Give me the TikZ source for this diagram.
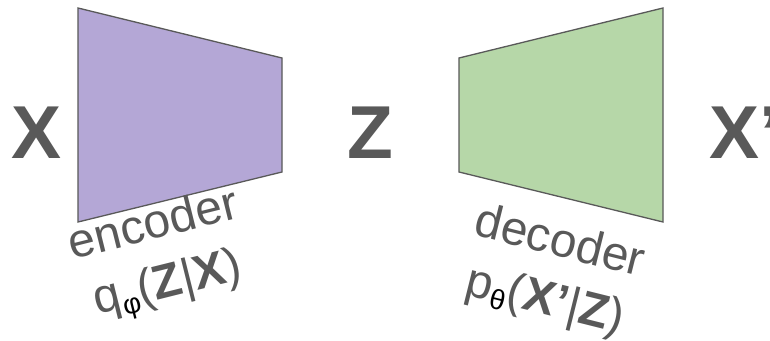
\documentclass[tikz,border=0pt]{standalone}
\usepackage{fontspec}
\setmainfont{Liberation Sans}
\definecolor{txtgray}{HTML}{595959}
\definecolor{encfill}{HTML}{B4A7D6}
\definecolor{decfill}{HTML}{B6D7A8}
\begin{document}
\begin{tikzpicture}[x=1pt,y=-1pt,
  big/.style={font=\fontsize{75}{80}\selectfont\bfseries, text=txtgray, inner sep=0pt, anchor=base},
  lbl/.style={font=\fontsize{48}{60}\selectfont, text=txtgray, align=center, inner sep=0pt},
  block/.style={draw=txtgray, line width=1.3pt, line join=miter}]
\clip (0,0) rectangle (770,340);
\fill[white] (0,0) rectangle (770,340);
% encoder
\draw[block, fill=encfill] (78,8) coordinate (e1) -- (282,58) coordinate (e2) -- (282,172) coordinate (e3) -- (78,222) coordinate (e4) -- cycle;
% decoder
\draw[block, fill=decfill] (459,58) coordinate (d1) -- (663,8) coordinate (d2) -- (663,222) coordinate (d3) -- (459,172) coordinate (d4) -- cycle;
% big letters
\node[big, anchor=base west] (x) at (11,158) {X};
\node[big] (z) at (370,158) {Z};
\node[big, anchor=base west] (xp) at (709,158) {X’};
% labels
\node[lbl, rotate=14] (enc) at (161,257) {encoder\\q{\fontsize{28}{30}\selectfont\raisebox{-7pt}{\color{black}φ}}(\textbf{Z}|\textbf{X})};
\node[lbl, rotate=-14] (dec) at (552,273) {decoder\\p{\fontsize{28}{30}\selectfont\raisebox{-7pt}{\color{black}θ}}(\textbf{X’}|\textbf{Z})};
\end{tikzpicture}
\end{document}
